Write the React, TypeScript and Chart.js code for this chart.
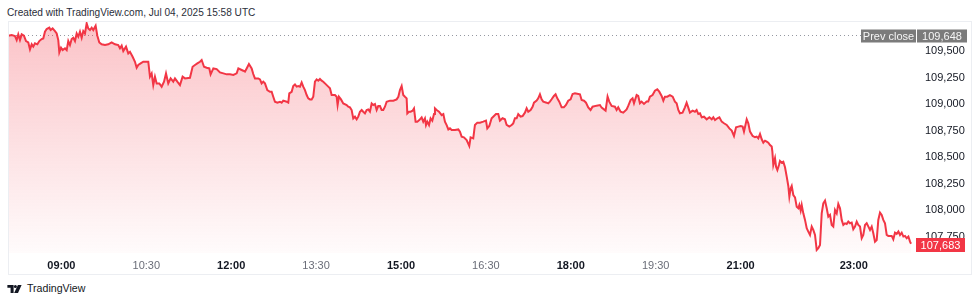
import React, { useEffect, useRef } from "react";
import { Chart, registerables } from "chart.js";
Chart.register(...registerables);

// minutes since 00:00 (UTC session, Jul 04 2025)
const times: number[] = [
  483.7, 487.3, 490.8, 492.6, 494.3, 496.1, 497.9, 500.3, 502.5, 504.9, 506.7, 508.5, 510.2, 512.0, 514.5, 516.6, 519.1, 520.8, 522.6, 524.4,
  527.2, 528.6, 530.7, 533.2, 535.0, 536.7, 537.8, 539.6, 541.3, 543.8, 545.6, 547.3, 549.1, 550.9, 552.6, 554.4, 556.2, 557.9, 559.7, 561.5,
  563.2, 565.0, 566.8, 568.5, 570.3, 572.1, 573.8, 576.3, 578.1, 580.2, 582.7, 586.2, 589.7, 593.3, 596.8, 600.3, 602.1, 603.9, 605.6, 608.5,
  610.9, 612.7, 615.5, 618.0, 619.8, 621.5, 624.0, 626.8, 632.1, 633.9, 635.7, 637.4, 639.2, 641.0, 643.8, 646.3, 648.8, 650.9, 653.3, 655.8,
  658.6, 660.4, 662.9, 665.7, 668.5, 671.0, 676.3, 679.1, 681.6, 684.1, 686.9, 688.7, 691.2, 694.0, 696.8, 698.2, 701.1, 704.6, 708.1, 711.7,
  715.2, 718.7, 722.3, 725.8, 727.6,
  731.1, 732.8, 734.6, 736.4, 738.8, 741.7, 743.4, 745.2, 748.7, 750.5, 752.3, 754.0, 755.8, 758.3, 761.1, 762.9, 764.6, 766.4, 768.9, 771.7,
  773.5, 775.2, 778.8, 780.5, 781.6, 784.1, 785.8, 787.6, 789.4, 791.1, 792.9, 794.7, 796.4, 798.2, 800.0, 801.7, 803.5, 805.3, 807.0, 808.8,
  810.6, 812.3, 814.1, 815.9, 817.6, 819.4, 822.9, 824.7, 826.5, 830.0, 831.8, 832.8, 834.2, 836.4, 838.8, 842.4, 844.1, 845.9, 847.7, 849.4,
  851.2, 853.0, 854.7, 856.5, 858.3, 860.0, 861.8, 863.6, 865.3, 867.1, 868.9, 870.6, 872.4, 874.2, 875.9, 877.7, 879.5, 881.2, 883.0, 884.8,
  888.3, 891.9, 895.4, 897.2, 898.9, 900.7, 902.4, 904.2, 906.0, 906.7, 908.5, 910.2, 912.3, 913.8, 915.5, 917.3, 919.4, 921.9, 923.6, 925.4,
  926.5, 927.9, 929.7, 931.4, 933.2, 935.0, 936.0, 937.8, 940.3, 943.1, 944.9, 946.6, 948.4, 950.2, 951.9, 953.7, 957.2, 960.8, 962.5,
  964.3, 966.7, 969.6, 972.4, 973.8, 976.6, 978.4, 980.9, 983.7, 987.2, 990.1, 991.5, 993.6, 996.1, 997.8, 1000.7, 1003.1, 1004.9, 1007.7, 1010.2,
  1012.0, 1014.8, 1017.3, 1019.0, 1020.8, 1022.6, 1024.3, 1026.8, 1028.9, 1031.4, 1033.2, 1034.9, 1037.4, 1039.5, 1041.0, 1043.8, 1045.5, 1047.3, 1049.1, 1050.8,
  1054.4, 1056.1, 1057.9, 1059.7, 1062.1, 1063.9, 1065.7, 1067.8, 1070.3, 1072.7, 1074.9, 1077.3, 1079.8, 1081.9, 1084.4, 1088.0, 1089.7, 1091.5, 1094.0, 1096.1,
  1098.5, 1101.0, 1103.1, 1107.4, 1110.9, 1112.7, 1115.2, 1116.9, 1118.0, 1119.0, 1120.8, 1123.3, 1126.8, 1128.6, 1130.3, 1132.8, 1135.6, 1139.2, 1140.9, 1143.4,
  1145.5, 1147.0, 1149.8, 1151.5, 1153.3, 1155.1, 1157.6, 1160.4, 1162.1, 1163.9, 1166.7, 1169.2, 1171.7, 1173.8, 1176.3, 1178.1, 1179.8, 1182.3, 1185.1, 1188.0,
  1190.4, 1192.2, 1194.0, 1195.7, 1198.5, 1201.0, 1202.8, 1204.5, 1206.3, 1209.1, 1211.6, 1213.4, 1215.2,
  1217.0, 1218.8, 1221.2, 1224.1, 1226.9, 1229.4, 1231.1, 1232.9, 1235.4, 1237.5, 1240.0, 1242.4, 1245.3, 1248.1, 1250.6, 1253.0, 1255.2, 1257.6, 1260.1, 1262.2,
  1263.6, 1265.4, 1266.5, 1268.2, 1270.0, 1272.8, 1275.3, 1277.1, 1278.8, 1280.6, 1282.4, 1284.1, 1285.9, 1287.7, 1289.4, 1291.2, 1293.0, 1293.7, 1294.7, 1296.5,
  1297.6, 1299.0, 1300.7, 1301.8, 1303.6, 1305.3, 1307.1, 1308.9, 1310.6, 1311.7, 1313.1, 1314.2, 1315.9, 1317.7, 1319.5, 1321.2, 1322.3, 1323.7, 1324.8, 1326.5,
  1328.3, 1330.1, 1331.8, 1333.6, 1335.4, 1337.1, 1338.9, 1340.7, 1342.4, 1344.2, 1346.0, 1347.7, 1349.5, 1351.3, 1353.0, 1354.8, 1356.6, 1358.3, 1360.1, 1361.9,
  1363.6, 1365.4, 1367.2, 1368.9, 1370.7, 1372.5, 1374.2, 1376.0, 1377.8, 1379.5, 1381.3, 1383.1, 1384.8, 1386.6, 1388.4, 1390.1, 1391.9, 1393.7, 1395.5, 1397.2,
  1399.0, 1400.7, 1402.5, 1404.3, 1406.0, 1407.8, 1409.6, 1411.3, 1413.1, 1414.9, 1416.6, 1420.2, 1421.9, 1423.7, 1425.5, 1427.3, 1429.0, 1430.8, 1432.6, 1434.3,
  1436.1, 1437.9, 1439.6, 1440.7,
];

const prices: number[] = [
  109644, 109651, 109641, 109603, 109657, 109603, 109657, 109644, 109594, 109581, 109515, 109563, 109541, 109572, 109563, 109594, 109613, 109619, 109682, 109707,
  109720, 109698, 109713, 109688, 109666, 109603, 109487, 109531, 109509, 109525, 109509, 109594, 109556, 109613, 109625, 109594, 109666, 109635, 109682, 109625,
  109688, 109666, 109761, 109713, 109698, 109720, 109698, 109739, 109644, 109581, 109563, 109556, 109563, 109581, 109563, 109556, 109525, 109550, 109500, 109541,
  109478, 109493, 109446, 109399, 109343, 109368, 109383, 109399, 109399, 109258, 109289, 109179, 109258, 109195, 109195, 109164, 109211, 109289, 109195, 109242,
  109211, 109242, 109211, 109179, 109258, 109242, 109248, 109352, 109368, 109383, 109399, 109415, 109352, 109343, 109336, 109280, 109336, 109330, 109299, 109289,
  109280, 109280, 109274, 109289, 109336,
  109321, 109314, 109305, 109336, 109377, 109336, 109283, 109242, 109242, 109233, 109195, 109211, 109195, 109132, 109116, 109116, 109069, 109022, 109013, 109022,
  109013, 109032, 109022, 109013, 109101, 109116, 109170, 109185, 109164, 109170, 109164, 109204, 109164, 109132, 109085, 109054, 109044, 109044, 109069, 109211,
  109233, 109220, 109236, 109220, 109211, 109195, 109164, 109148, 109085, 109085, 109069, 108991, 109069, 109044, 109006, 108991, 108975, 108969, 108944, 108865,
  108881, 108856, 108881, 108928, 108944, 108928, 108912, 108944, 108950, 108928, 109006, 108991, 109000, 108944, 108981, 108981, 108944, 108944, 108975, 109022,
  109032, 109032, 109044, 109069, 109132, 109170, 109085, 109069, 109054, 108912, 108928, 108928, 108937, 108959, 108834, 108834, 108849, 108874, 108834, 108865,
  108802, 108834, 108802, 108865, 108843, 108906, 108959, 108944, 108928, 108896, 108906, 108834, 108802, 108761, 108771, 108755, 108755, 108761, 108739,
  108693, 108686, 108661, 108605, 108686, 108677, 108803, 108825, 108825, 108834, 108844, 108771, 108793, 108866, 108881, 108906, 108906, 108844, 108866, 108856,
  108803, 108787, 108803, 108818, 108866, 108866, 108906, 108881, 108887, 108919, 108960, 108928, 108944, 108975, 109013, 109032, 109054, 109092, 109045, 109023,
  109013, 109007, 109023, 109045, 109076, 109092, 109054, 109023, 108969, 108969, 108991, 109032, 109045, 109095, 109101, 109095, 109092, 109038, 109032, 109013,
  108969, 108944, 108975, 108985, 108991, 108966, 108950, 108938, 109007, 109070, 109023, 108982, 108975, 108944, 108969, 108928, 108919, 108950, 108982, 109038,
  109054, 109007, 109085, 109076, 109007, 109023, 109001, 109023, 109023, 109070, 109085, 109126, 109139, 109117, 109076, 109032, 109070, 109070, 109085, 109070,
  109023, 109007, 108944, 108913, 108919, 108969, 109013, 108969, 108919, 108938, 108928, 108944, 108906,
  108913, 108875, 108881, 108856, 108875, 108856, 108875, 108850, 108866, 108875, 108834, 108819, 108803, 108771, 108750, 108699, 108781, 108787, 108793, 108787,
  108740, 108812, 108856, 108819, 108740, 108699, 108687, 108693, 108677, 108718, 108668, 108636, 108655, 108646, 108636, 108614, 108599, 108552, 108426, 108489,
  108410, 108379, 108426, 108464, 108448, 108457, 108404, 108316, 108228, 108127, 108206, 108228, 108143, 108121, 108033, 108018, 108049, 107996, 108049, 107970,
  107908, 107829, 107798, 107766, 107845, 107813, 107766, 107625, 107641, 107672, 107970, 108065, 108090, 108018, 107939, 107955, 107860, 107845, 108002, 107970,
  108058, 108018, 107908, 107860, 107876, 107870, 107892, 107876, 107882, 107820, 107845, 107892, 107860, 107845, 107735, 107766, 107860, 107876, 107845, 107813,
  107845, 107782, 107703, 107719, 107908, 107977, 107955, 107908, 107876, 107766, 107757, 107757, 107725, 107788, 107776, 107798, 107766, 107788, 107751, 107757,
  107735, 107751, 107703, 107683,
];

const xTickMinutes: number[] = [540, 630, 720, 810, 900, 990, 1080, 1170, 1260, 1380];
const boldTickMinutes: number[] = [540, 720, 900, 1080, 1260, 1380];
const yTickValues: number[] = [107750, 108000, 108250, 108500, 108750, 109000, 109250, 109500];
const prevClose = 109648;
const lastPrice = 107683;

const FONT = "'Liberation Sans', Arial, sans-serif";
const RED = "#f23645";

const fmtNum = (v: number) => Math.round(v).toLocaleString("en-US");
const fmtTime = (m: number) => {
  const h = Math.floor(m / 60);
  const mm = Math.round(m - h * 60);
  return String(h).padStart(2, "0") + ":" + String(mm).padStart(2, "0");
};

const overlayPlugin = {
  id: "tvOverlay",
  beforeDatasetsDraw(chart: any) {
    const { ctx, chartArea, scales } = chart;
    const py = Math.round(scales.y.getPixelForValue(prevClose)) + 0.5;
    ctx.save();
    ctx.strokeStyle = "#9598a1";
    ctx.lineWidth = 1;
    ctx.setLineDash([1, 3]);
    ctx.beginPath();
    ctx.moveTo(chartArea.left, py);
    ctx.lineTo(chartArea.right - 54, py);
    ctx.stroke();
    ctx.restore();
  },
  afterDraw(chart: any) {
    const { ctx, chartArea, scales, width, height } = chart;
    const r = chartArea.right;
    ctx.save();
    ctx.font = "11px " + FONT;
    ctx.textBaseline = "middle";
    // prev close label
    const py = Math.round(scales.y.getPixelForValue(prevClose)) + 1;
    const bh = 13;
    ctx.fillStyle = "#7b7b7b";
    ctx.fillRect(r - 54, py - bh / 2, 55, bh);
    ctx.fillRect(r + 2, py - bh / 2, 50, bh);
    ctx.fillStyle = "#f5f5f5";
    ctx.textAlign = "center";
    ctx.fillText("Prev close", r - 26.5, py + 0.5);
    ctx.fillText(fmtNum(prevClose), r + 27, py + 0.5);
    // last price label
    const ly = Math.round(scales.y.getPixelForValue(lastPrice)) + 1;
    ctx.fillStyle = RED;
    ctx.fillRect(r + 1, ly - 7, 49, 14);
    ctx.fillStyle = "#ffffff";
    ctx.fillText(fmtNum(lastPrice), r + 25.5, ly + 0.5);
    // frame
    ctx.strokeStyle = "#eceef2";
    ctx.lineWidth = 1;
    ctx.strokeRect(0.5, 0.5, width - 1, height - 1);
    ctx.restore();
  },
};

export default function App() {
  const ref = useRef<HTMLCanvasElement | null>(null);

  useEffect(() => {
    if (!ref.current) return;
    const data = times.map((t, i) => ({ x: t, y: prices[i] }));
    const chart = new Chart(ref.current, {
      type: "line",
      data: {
        datasets: [
          {
            data,
            borderColor: RED,
            borderWidth: 2,
            pointRadius: 0,
            tension: 0,
            fill: "start",
            backgroundColor: (c: any) => {
              const ca = c.chart.chartArea;
              if (!ca) return "rgba(242,54,69,0.15)";
              const g = c.chart.ctx.createLinearGradient(0, ca.top, 0, ca.bottom);
              g.addColorStop(0, "rgba(242,54,69,0.30)");
              g.addColorStop(1, "rgba(242,54,69,0.02)");
              return g;
            },
          },
        ],
      },
      options: {
        responsive: false,
        animation: false,
        parsing: false,
        normalized: true,
        layout: { padding: 0 },
        plugins: { legend: { display: false }, tooltip: { enabled: false }, title: { display: false } },
        scales: {
          x: {
            type: "linear",
            min: 483.4,
            max: 1444.9,
            grid: { display: false, drawTicks: false },
            border: { display: false },
            afterBuildTicks: (s: any) => {
              s.ticks = xTickMinutes.map((v) => ({ value: v }));
            },
            afterFit: (s: any) => {
              s.height = 22;
              s.paddingLeft = 0;
              s.paddingRight = 0;
            },
            ticks: {
              autoSkip: false,
              maxRotation: 0,
              padding: 6,
              callback: (v: any) => fmtTime(Number(v)),
              color: (c: any) => (boldTickMinutes.includes(c.tick?.value) ? "#131722" : "#6a6d78"),
              font: (c: any) => ({
                family: FONT,
                size: 11,
                weight: boldTickMinutes.includes(c.tick?.value) ? "bold" : "normal",
              }),
            },
          },
          y: {
            type: "linear",
            position: "right",
            min: 107596,
            max: 109783,
            grid: { display: false, drawTicks: false },
            border: { display: false },
            afterBuildTicks: (s: any) => {
              s.ticks = yTickValues.map((v) => ({ value: v }));
            },
            afterFit: (s: any) => {
              s.width = 57;
              s.paddingTop = 0;
              s.paddingBottom = 0;
            },
            ticks: {
              padding: 10,
              color: "#131722",
              font: { family: FONT, size: 11 },
              callback: (v: any) => fmtNum(Number(v)),
            },
          },
        },
      },
      plugins: [overlayPlugin],
    });
    return () => chart.destroy();
  }, []);

  return (
    <div style={{ position: "absolute", left: 0, top: 0, width: 980, height: 303, background: "#fff", overflow: "hidden" }}>
      <div
        style={{
          position: "absolute",
          left: 7,
          top: 6,
          fontFamily: FONT,
          fontSize: 10.1,
          color: "#2a2e39",
          whiteSpace: "nowrap",
          lineHeight: "13px",
        }}
      >
        Created with TradingView.com, Jul 04, 2025 15:58 UTC
      </div>
      <canvas ref={ref} width={964} height={254} style={{ position: "absolute", left: 8, top: 21, width: 964, height: 254 }} />
      <svg style={{ position: "absolute", left: 7, top: 284.5 }} width={15} height={8} viewBox="0 0 16 9">
        <path d="M0 0 H7 V9 H3.6 V3.2 H0 Z" fill="#131722" />
        <circle cx="9" cy="1.7" r="1.7" fill="#131722" />
        <path d="M11.8 0 H16 L11.9 9 H7.6 Z" fill="#131722" />
      </svg>
      <div
        style={{
          position: "absolute",
          left: 27,
          top: 281,
          fontFamily: FONT,
          fontSize: 10.6,
          color: "#131722",
          whiteSpace: "nowrap",
          lineHeight: "14px",
        }}
      >
        TradingView
      </div>
    </div>
  );
}
